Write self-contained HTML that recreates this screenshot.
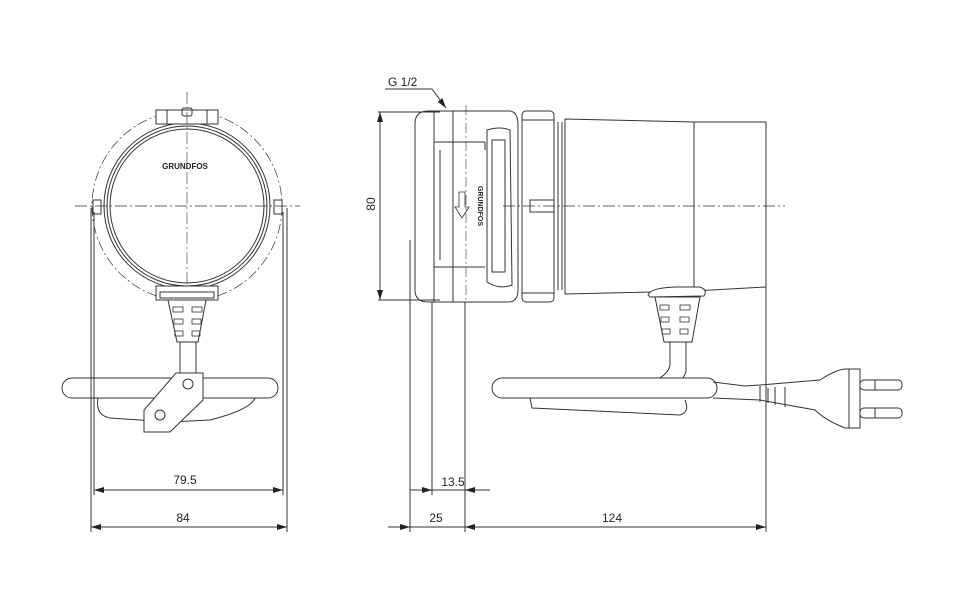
<!DOCTYPE html>
<html><head><meta charset="utf-8"><style>
html,body{margin:0;padding:0;background:#fff;}
svg{display:block;}
text{font-family:"Liberation Sans",sans-serif;font-size:12px;fill:#222;}
</style></head><body>
<svg width="976" height="600" viewBox="0 0 976 600" xmlns="http://www.w3.org/2000/svg">
<defs>
<marker id="a" markerWidth="10" markerHeight="6" refX="10" refY="3" orient="auto-start-reverse" markerUnits="userSpaceOnUse">
<path d="M0,0 L10,3 L0,6 z" fill="#222"/></marker>
</defs>
<g fill="none" stroke="#333" stroke-width="1">
<!-- LEFT VIEW -->
<circle cx="187" cy="206" r="95" stroke-dasharray="10,3,2,3" stroke-width="0.7"/>
<circle cx="187" cy="206" r="83"/>
<circle cx="187" cy="206" r="80"/>
<circle cx="187" cy="206" r="77"/>
<rect x="156" y="110" width="62" height="14" fill="#fff"/>
<line x1="167" y1="110" x2="167" y2="124"/><line x1="207" y1="110" x2="207" y2="124"/>
<rect x="182" y="108" width="10" height="8" rx="2"/>
<rect x="93" y="200" width="8" height="14" fill="#fff"/><rect x="274" y="200" width="8" height="14" fill="#fff"/>
<line x1="75" y1="206" x2="300" y2="206" stroke-dasharray="12,3,2,3" stroke-width="0.8"/>
<line x1="187" y1="92" x2="187" y2="340" stroke-dasharray="12,3,2,3" stroke-width="0.6"/>
<rect x="156" y="286" width="62" height="14" fill="#fff"/>
<rect x="160" y="292" width="54" height="6"/>
<path d="M168,300 L206,300 L198,342 L177,342 Z" fill="#fff"/>
<g stroke-width="0.8">
<rect x="173" y="307" width="10" height="5"/><rect x="192" y="307" width="10" height="5"/>
<rect x="174" y="319" width="9" height="5"/><rect x="192" y="319" width="9" height="5"/>
<rect x="175" y="331" width="8" height="5"/><rect x="192" y="331" width="8" height="5"/>
</g>
<rect x="180" y="342" width="16" height="37" fill="#fff"/>
<path d="M98,398 Q95,415 110,418 L170,422 L210,420 Q250,410 255,398" fill="#fff"/>
<rect x="62" y="378" width="216" height="20" rx="10" fill="#fff"/>
<path d="M176,373 L203,373 L203,400 L170,432 L144,432 L144,410 Z" fill="#fff"/>
<circle cx="188" cy="384" r="5"/><circle cx="160" cy="415" r="5"/>
<!-- left dims -->
<line x1="91" y1="208" x2="91" y2="532"/><line x1="94" y1="212" x2="94" y2="495"/>
<line x1="283" y1="212" x2="283" y2="495"/><line x1="287" y1="208" x2="287" y2="532"/>
<line x1="94" y1="490" x2="283" y2="490" marker-start="url(#a)" marker-end="url(#a)"/>
<line x1="91" y1="527" x2="287" y2="527" marker-start="url(#a)" marker-end="url(#a)"/>

<!-- RIGHT VIEW -->
<path d="M428,111 L510,111 Q518,112 518,125 L518,290 Q518,302 508,302 L428,302 Q415,302 415,290 L415,124 Q415,111 428,111 Z" fill="#fff"/>
<line x1="434" y1="111" x2="434" y2="302"/><line x1="453" y1="111" x2="453" y2="302"/>
<line x1="434" y1="142" x2="485" y2="142"/><line x1="434" y1="267" x2="485" y2="267"/>
<line x1="440" y1="150" x2="440" y2="260"/><line x1="485" y1="142" x2="485" y2="150"/>
<path d="M487,130 Q500,126 510,130 L512,285 Q500,290 487,282 Z"/>
<path d="M492,140 L505,140 L505,272 L492,272 Z"/>
<line x1="466" y1="105" x2="466" y2="302" stroke-dasharray="10,3,2,3" stroke-width="0.6"/>
<rect x="522" y="111" width="32" height="191" rx="4" fill="#fff"/>
<line x1="522" y1="120" x2="554" y2="120"/><line x1="522" y1="293" x2="554" y2="293"/>
<line x1="558" y1="122" x2="558" y2="290"/><line x1="562" y1="122" x2="562" y2="290"/>
<path d="M565,119 L694,122 L694,291 L565,294 Z" fill="#fff"/>
<path d="M694,122 L766,122 L766,287 L694,291 Z" fill="#fff"/>
<rect x="530" y="200" width="24" height="12"/>
<line x1="503" y1="206" x2="785" y2="206" stroke-dasharray="12,3,2,3" stroke-width="0.8"/>
<!-- arrow glyph -->
<path d="M459,192 L465,192 L465,207 L469,207 L462,218 L455,207 L459,207 Z" stroke-width="0.8"/>
<!-- gland -->
<path d="M648,295 Q650,288 675,287 L700,287 Q708,290 704,296 L650,297 Z" fill="#fff"/>
<path d="M655,297 L700,297 L692,342 L664,342 Z" fill="#fff"/>
<g stroke-width="0.8">
<rect x="660" y="305" width="9" height="5"/><rect x="680" y="305" width="10" height="5"/>
<rect x="661" y="317" width="8" height="5"/><rect x="680" y="317" width="9" height="5"/>
<rect x="662" y="329" width="8" height="5"/><rect x="680" y="329" width="8" height="5"/>
</g>
<path d="M670,342 L670,365 Q668,375 655,380 M686,342 L686,372 L682,380"/>
<path d="M530,398 L532,408 L680,415 Q690,412 685,400"/>
<rect x="492" y="378" width="225" height="20" rx="10" fill="#fff"/>
<!-- cable to plug -->
<path d="M713,382 L745,386 L760,385 L820,380 Q835,370 845,369 L860,369 L860,428 L845,428 Q825,420 815,410 L760,400 L713,398"/>
<line x1="760" y1="386" x2="760" y2="402"/><line x1="768" y1="388" x2="768" y2="403"/><line x1="775" y1="387" x2="775" y2="405"/><line x1="785" y1="387" x2="785" y2="407"/>
<line x1="849" y1="369" x2="849" y2="428"/>
<rect x="860" y="380" width="42" height="10" rx="4"/><rect x="860" y="408" width="42" height="10" rx="4"/>
<line x1="875" y1="380" x2="875" y2="390"/><line x1="875" y1="408" x2="875" y2="418"/>
<!-- right dims -->
<line x1="378" y1="112" x2="440" y2="112"/><line x1="378" y1="300" x2="440" y2="300"/>
<line x1="380" y1="112" x2="380" y2="300" marker-start="url(#a)" marker-end="url(#a)"/>
<path d="M385,89 L432,89 L446,108" marker-end="url(#a)"/>
<line x1="410" y1="240" x2="410" y2="532"/><line x1="432" y1="302" x2="432" y2="495"/>
<line x1="465" y1="302" x2="465" y2="532"/><line x1="766" y1="287" x2="766" y2="532"/>
<line x1="410" y1="490" x2="432" y2="490" marker-end="url(#a)"/>
<line x1="432" y1="490" x2="490" y2="490"/>
<line x1="475" y1="490" x2="465" y2="490" marker-end="url(#a)"/>
<line x1="388" y1="527" x2="410" y2="527" marker-end="url(#a)"/>
<line x1="410" y1="527" x2="465" y2="527"/>
<line x1="465" y1="527" x2="766" y2="527" marker-start="url(#a)" marker-end="url(#a)"/>
</g>
<text x="185" y="169" style="font-size:8px;font-weight:bold" text-anchor="middle">GRUNDFOS</text>
<text x="185" y="484" text-anchor="middle">79.5</text>
<text x="183" y="522" text-anchor="middle">84</text>
<text x="388" y="86">G 1/2</text>
<text x="375" y="204" text-anchor="middle" transform="rotate(-90 375 204)">80</text>
<text x="453" y="486" text-anchor="middle">13.5</text>
<text x="436" y="522" text-anchor="middle">25</text>
<text x="612" y="522" text-anchor="middle">124</text>
<text x="478" y="206" style="font-size:7px;font-weight:bold" text-anchor="middle" transform="rotate(90 478 206)">GRUNDFOS</text>
</svg>
</body></html>
